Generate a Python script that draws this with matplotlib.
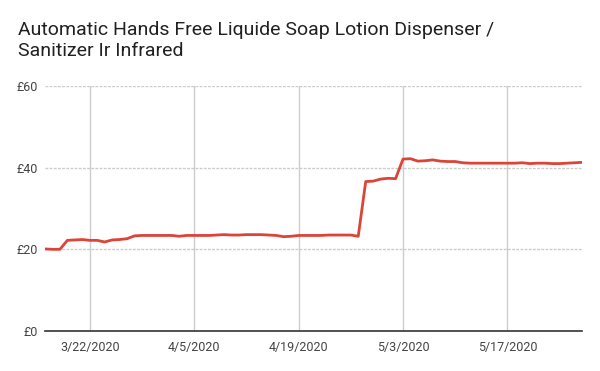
import matplotlib
matplotlib.use("Agg")
import matplotlib.pyplot as plt
import matplotlib.dates as mdates
import numpy as np
import pandas as pd

title = "Automatic Hands Free Liquide Soap Lotion Dispenser /\nSanitizer Ir Infrared"
start_date = "2020-03-16"
end_date = "2020-05-27"
prices = [
    # March 16-31
    20.1, 20.0, 20.0, 22.2, 22.3, 22.4, 22.2, 22.2, 21.8, 22.3, 22.4, 22.6, 23.3, 23.4, 23.4, 23.4,
    # April 1-30
    23.4, 23.4, 23.2, 23.4, 23.4, 23.4, 23.4, 23.5, 23.6, 23.5, 23.5, 23.6, 23.6, 23.6, 23.5,
    23.4, 23.1, 23.2, 23.4, 23.4, 23.4, 23.4, 23.5, 23.5, 23.5, 23.5, 23.2, 36.6, 36.7, 37.2,
    # May 1-27
    37.4, 37.3, 42.1, 42.2, 41.6, 41.7, 41.9, 41.6, 41.5, 41.5, 41.2, 41.1, 41.1, 41.1, 41.1,
    41.1, 41.1, 41.1, 41.2, 41.0, 41.1, 41.1, 41.0, 41.0, 41.1, 41.2, 41.3,
]
dates = pd.date_range(start_date, end_date, freq="D")
tick_dates = pd.to_datetime(["2020-03-22", "2020-04-05", "2020-04-19", "2020-05-03", "2020-05-17"])
tick_labels = ["3/22/2020", "4/5/2020", "4/19/2020", "5/3/2020", "5/17/2020"]
y_ticks = [0, 20, 40, 60]
y_labels = ["£0", "£20", "£40", "£60"]

plt.rcParams['font.family'] = ['Roboto', 'DejaVu Sans']

fig = plt.figure(figsize=(6, 3.71), dpi=100)
ax = fig.add_axes([45/600, 1-331/371, (582-45)/600, (331-86)/371])

ax.plot(dates, prices, color="#db4437", lw=2, solid_joinstyle="round", zorder=3)

ax.set_xlim(dates[0], dates[-1])
ax.set_ylim(0, 60)
ax.set_yticks(y_ticks)
ax.set_yticklabels(y_labels)
ax.set_xticks(tick_dates)
ax.set_xticklabels(tick_labels)

for s in ["top", "right", "left"]:
    ax.spines[s].set_visible(False)
ax.spines["bottom"].set_color("#333333")
ax.spines["bottom"].set_linewidth(1.2)
ax.spines["bottom"].set_zorder(4)

ax.grid(axis="x", color="#cccccc", lw=1, ls="-")
ax.grid(axis="y", color="#cccccc", lw=1, ls=(0, (2, 1)))
ax.set_axisbelow(True)

ax.tick_params(axis="both", length=0, labelsize=9, colors="#444444")
ax.tick_params(axis="y", pad=5)
ax.tick_params(axis="x", pad=7)

fig.text(18/600, 1-21/371, title, fontsize=14, color="#212121", va="top", ha="left", linespacing=1.25)

fig.savefig("out.png", dpi=100)
